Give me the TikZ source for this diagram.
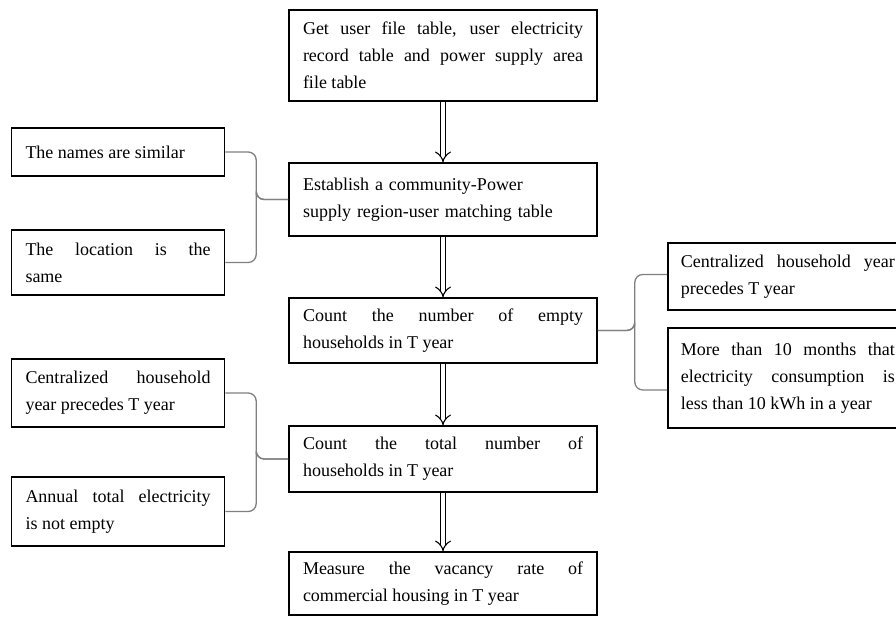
\documentclass[tikz,border=0pt]{standalone}
\usepackage{fontspec}
\setmainfont{Liberation Serif}
\usetikzlibrary{positioning,arrows.meta}
\hyphenpenalty=10000
\exhyphenpenalty=10000
\hbadness=10000

\begin{document}
\begin{tikzpicture}[x=1pt,y=-1pt,
  mainbox/.style={draw,line width=1.6pt,text width=280pt,inner xsep=14pt,align=justify,font=\fontsize{18}{27}\selectfont},
  sidebox/.style={draw,line width=1.6pt,text width=185pt,inner xsep=14pt,align=justify,font=\fontsize{18}{27}\selectfont},
  flow/.style={draw=black,double=white,double distance=4.5pt,line width=1.1pt,-{Implies}},
  brace/.style={draw=gray,line width=1.3pt,rounded corners=8pt}]
\useasboundingbox (0,0) rectangle (896,617);
% main chain
\node[mainbox,minimum height=91pt] (getTables) at (443,55.5) {Get user file table, user electricity\linebreak record table and power supply area\linebreak file table};
\node[mainbox,align=left,minimum height=73pt] (buildMatch) at (443,199.5) {Establish a community-Power\\supply region-user matching table};
\node[mainbox,minimum height=65pt] (countEmpty) at (443,330.5) {Count the number of empty\linebreak households in T year};
\node[mainbox,minimum height=66pt] (countTotal) at (443,459) {Count the total number of\linebreak households in T year};
\node[mainbox,minimum height=63pt] (measureRate) at (443,583.5) {Measure the vacancy rate of\linebreak commercial housing in T year};
\foreach \a/\b in {getTables/buildMatch,buildMatch/countEmpty,countEmpty/countTotal,countTotal/measureRate}
  \draw[flow] (\a) -- (\b);
% conditions on the left
\node[sidebox,minimum height=48pt] (namesSimilar) at (118,152) {The names are similar};
\node[sidebox,minimum height=65pt] (locationSame) at (118,262.5) {The location is the\linebreak same};
\node[sidebox,minimum height=68pt] (householdPrior) at (118,393) {Centralized household\linebreak year precedes T year};
\node[sidebox,minimum height=69pt] (annualNotEmpty) at (118,511.5) {Annual total electricity\linebreak is not empty};
% conditions on the right
\node[sidebox,text width=214pt,inner xsep=13pt,anchor=west,minimum height=67pt] (householdPriorR) at (667,276.5) {Centralized household year\linebreak precedes T year};
\node[sidebox,text width=214pt,inner xsep=13pt,anchor=west,minimum height=100pt] (lowUse) at (667,378) {More than 10 months that\linebreak electricity consumption is\linebreak less than 10 kWh in a year};
% braces
\draw[brace] (namesSimilar.east) -| ([xshift=-32pt]buildMatch.west) |- (buildMatch.west);
\draw[brace] (locationSame.east) -| ([xshift=-32pt]buildMatch.west) |- (buildMatch.west);
\draw[brace] (householdPrior.east) -| ([xshift=-32pt]countTotal.west) |- (countTotal.west);
\draw[brace] (annualNotEmpty.east) -| ([xshift=-32pt]countTotal.west) |- (countTotal.west);
\draw[brace] ([yshift=2pt]householdPriorR.west) -| ([xshift=37pt]countEmpty.east) |- (countEmpty.east);
\draw[brace] ([yshift=-12pt]lowUse.west) -| ([xshift=37pt]countEmpty.east) |- (countEmpty.east);
\end{tikzpicture}
\end{document}
